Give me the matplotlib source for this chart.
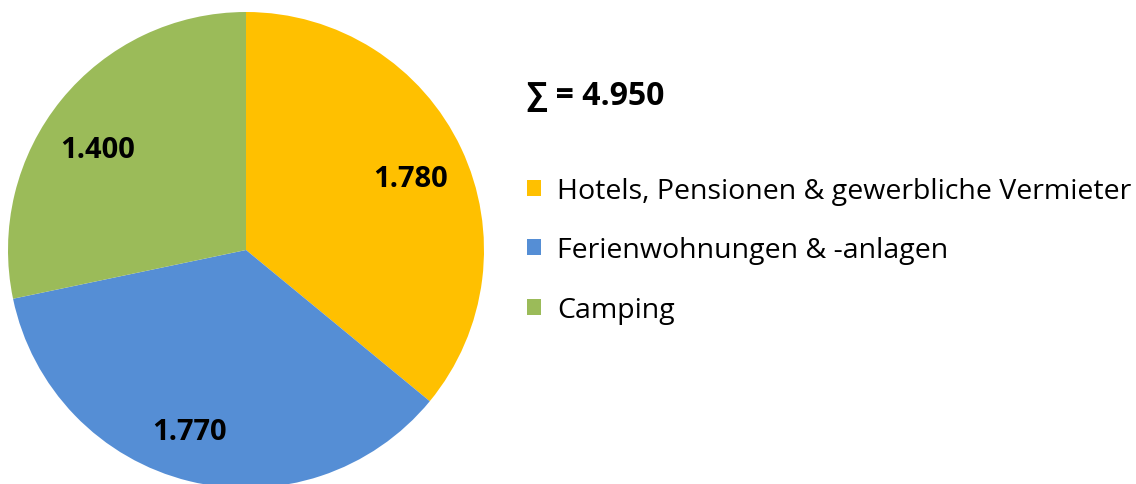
import matplotlib
matplotlib.use("Agg")
import matplotlib.pyplot as plt
from matplotlib.patches import Patch
import numpy as np

categories = ["Hotels, Pensionen & gewerbliche Vermieter", "Ferienwohnungen & -anlagen", "Camping"]
values = [1780, 1770, 1400]
value_labels = ["1.780", "1.770", "1.400"]
total_label = "\u2211 = 4.950"
colors = ["#FFC000", "#558ED5", "#9BBB59"]

W, H = 1136, 485
fig = plt.figure(figsize=(W / 100, H / 100), dpi=100)
fams = ["Open Sans", "DejaVu Sans"]

ax = fig.add_axes([8 / W, (H - 489) / H, 476 / W, 476 / H])
wedges, _ = ax.pie(values, colors=colors, startangle=90, counterclock=False, radius=1.0)
ax.set_xlim(-1, 1)
ax.set_ylim(-1, 1)
ax.set_aspect("equal")
ax.axis("off")

# label placement: radial distance and small angular nudge (degrees) per slice
dists = [0.756, 0.799, 0.755]
nudges = [-1.7, -3.5, 4.9]
for w, lab, d, dt in zip(wedges, value_labels, dists, nudges):
    ang = np.deg2rad((w.theta1 + w.theta2) / 2 + dt)
    ax.text(d * np.cos(ang), d * np.sin(ang), lab, ha="center", va="center",
            fontsize=21, fontweight="bold", family=fams, color="black")

fig.text(527 / W, (H - 97) / H, total_label, ha="left", va="center",
         fontsize=23, fontweight="bold", family=fams)

handles = [Patch(facecolor=c, edgecolor="none") for c in colors]
leg = fig.legend(handles, categories, loc="upper left", bbox_to_anchor=(527 / W, (H - 178) / H),
                 frameon=False, prop={"family": fams, "size": 20.5},
                 handlelength=0.49, handleheight=0.49, handletextpad=0.57, labelspacing=1.1,
                 borderaxespad=0, borderpad=0)

fig.savefig("out.png", dpi=100)
